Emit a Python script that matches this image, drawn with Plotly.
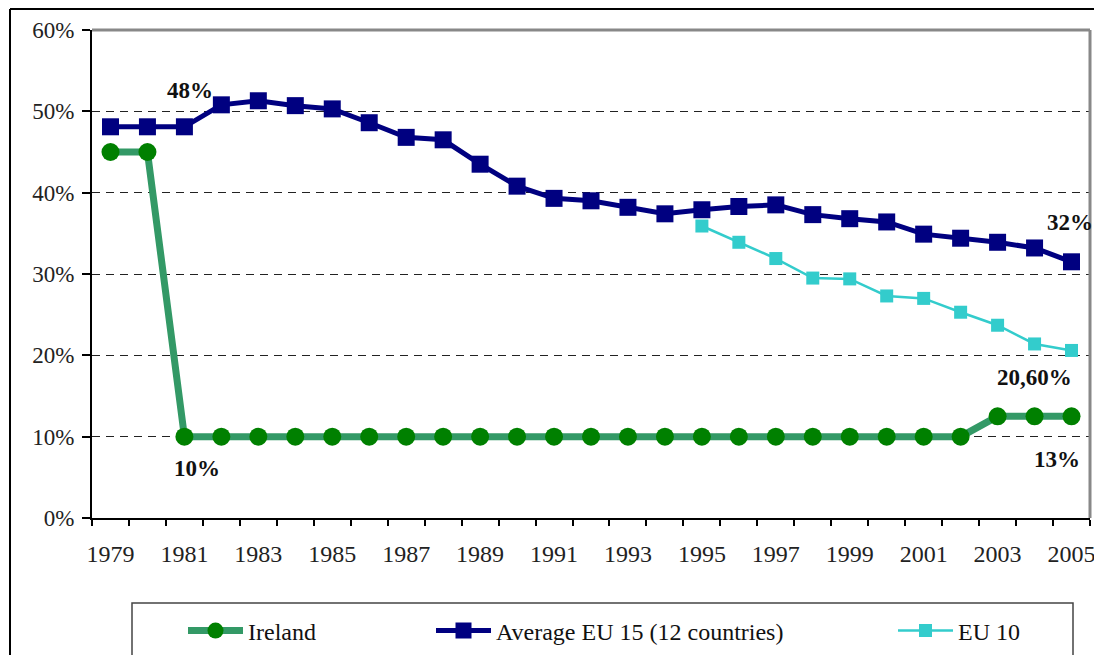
import plotly.graph_objects as go

years = list(range(1979, 2006))

ireland = [45, 45] + [10] * 22 + [12.5, 12.5, 12.5]

eu15 = [48.1, 48.1, 48.1, 50.8, 51.3, 50.7, 50.3, 48.6, 46.8, 46.5,
        43.5, 40.8, 39.3, 39.0, 38.2, 37.4, 37.9, 38.3, 38.5, 37.3,
        36.8, 36.4, 34.9, 34.4, 33.9, 33.2, 31.5]

eu10_years = list(range(1995, 2006))
eu10 = [35.9, 33.9, 31.9, 29.5, 29.4, 27.3, 27.0, 25.3, 23.7, 21.4, 20.6]

labels = [
    (1981.15, 52.6, "48%"),
    (1981.34, 6.1, "10%"),
    (2004.95, 36.3, "32%"),
    (2004.0, 17.3, "20,60%"),
    (2004.6, 7.2, "13%"),
]

serif = '"Liberation Serif", "Times New Roman", serif'

fig = go.Figure()
fig.add_trace(go.Scatter(
    x=years, y=ireland, name="Ireland", mode="lines+markers",
    line=dict(color="#339966", width=7),
    marker=dict(symbol="circle", size=18, color="#008000"),
    legend="legend",
))
fig.add_trace(go.Scatter(
    x=years, y=eu15, name="Average EU 15 (12 countries)", mode="lines+markers",
    line=dict(color="#000080", width=5),
    marker=dict(symbol="square", size=17, color="#000080"),
    legend="legend2",
))
fig.add_trace(go.Scatter(
    x=eu10_years, y=eu10, name="EU 10", mode="lines+markers",
    line=dict(color="#33CCCC", width=2.5),
    marker=dict(symbol="square", size=13, color="#33CCCC"),
    legend="legend3",
))

for x, y, t in labels:
    fig.add_annotation(x=x, y=y, text="<b>%s</b>" % t, showarrow=False,
                       font=dict(family=serif, size=23, color="#111"))

# page body has an 8px margin, so work in screen pixels and shift
OFF = 8
W, H = 1102 - OFF, 655 - OFF
L, R, T, B = 92 - OFF, 12, 30 - OFF, 655 - 518
pw, ph = W - L - R, H - T - B


def px(x):
    return (x - OFF - L) / pw


def py(y):
    return (H - B - (y - OFF)) / ph


# plot-area top/right border (grey) and outer frame
fig.add_shape(type="line", xref="paper", yref="paper", x0=0, x1=1, y0=1, y1=1,
              line=dict(color="#888", width=3))
fig.add_shape(type="line", xref="paper", yref="paper", x0=1, x1=1, y0=0, y1=1,
              line=dict(color="#888", width=3))
fig.add_shape(type="line", xref="paper", yref="paper", x0=px(10), x1=px(1110),
              y0=py(9), y1=py(9), line=dict(color="black", width=2))
fig.add_shape(type="line", xref="paper", yref="paper", x0=px(10), x1=px(10),
              y0=py(9), y1=py(670), line=dict(color="black", width=2))
fig.add_shape(type="rect", xref="paper", yref="paper", x0=px(132), x1=px(1073),
              y0=py(603), y1=py(680), line=dict(color="#444", width=1.5))

legend_style = dict(orientation="h", xanchor="left", yanchor="middle",
                    font=dict(family=serif, size=24, color="#111"),
                    bgcolor="rgba(0,0,0,0)", borderwidth=0, itemwidth=55)
fig.update_layout(
    width=W, height=H,
    margin=dict(l=L, r=R, t=T, b=B, pad=0, autoexpand=False),
    paper_bgcolor="white", plot_bgcolor="white",
    font=dict(family=serif),
    showlegend=True,
    legend=dict(x=px(183), y=py(631), **legend_style),
    legend2=dict(x=px(431), y=py(631), **legend_style),
    legend3=dict(x=px(893), y=py(631), **legend_style),
    xaxis=dict(
        range=[1978.5, 2005.5], tickmode="array", tickvals=years[::2],
        ticks="", showgrid=False, zeroline=False, ticklabelstandoff=13,
        showline=True, linecolor="black", linewidth=2, automargin=False,
        tickfont=dict(family=serif, size=24, color="#222"),
        minor=dict(tickmode="linear", tick0=1978.5, dtick=1, ticks="outside",
                   ticklen=6, tickcolor="black", tickwidth=1.5, showgrid=False),
    ),
    yaxis=dict(
        range=[0, 60], tickvals=[0, 10, 20, 30, 40, 50, 60],
        ticktext=["0%", "10%", "20%", "30%", "40%", "50%", "60%"],
        ticks="outside", ticklen=8, tickcolor="black", tickwidth=1.5,
        ticklabelstandoff=3, automargin=False,
        showgrid=True, gridcolor="#222", griddash="8px,6px", gridwidth=1,
        zeroline=False, showline=True, linecolor="black", linewidth=2,
        tickfont=dict(family=serif, size=23, color="#222"),
    ),
)

fig.write_html("out.html")
